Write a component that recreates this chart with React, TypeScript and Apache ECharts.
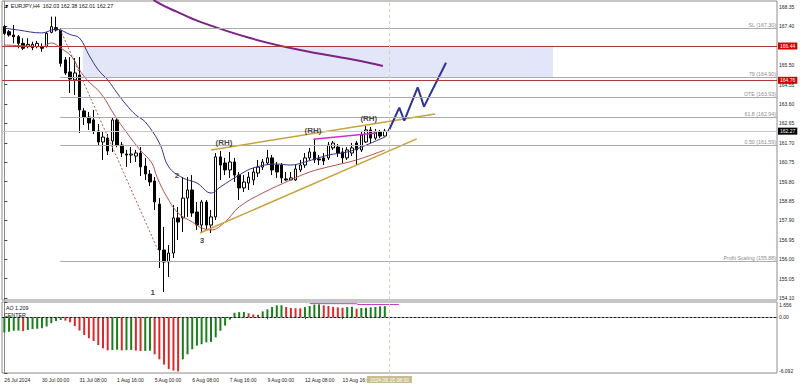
import React, { useEffect, useRef } from "react";
import * as echarts from "echarts";

const SANS = "'Liberation Sans', Arial, sans-serif";
const NARROW = "'Liberation Sans Narrow', 'Liberation Sans', Arial, sans-serif";

const symbolName = "EURJPY,H4";

// OHLC per H4 bar (index 0 = 26 Jul 16:00 ... 81 = 15 Aug 04:00)
const opens = [
  167.39, 167.14, 166.98, 166.9, 166.57, 166.41, 166.36, 166.41, 166.41, 166.41,
  167.11, 167.34, 167.22, 165.76, 165.17, 164.78, 165.02, 163.26, 162.96, 162.82,
  162.28, 161.74, 161.93, 161.79, 162.82, 161.59, 161.15, 161.1, 161.05, 161.2,
  160.56, 160.17, 159.83, 158.7, 156.45, 155.86, 156.3, 158.02, 158.02, 158.99,
  159.39, 158.31, 157.67, 158.8, 157.67, 158.07, 161.01, 160.71, 160.37, 160.76,
  160.12, 159.49, 159.73, 159.88, 160.22, 160.51, 160.71, 160.96, 160.61, 160.61,
  159.93, 159.88, 159.88, 160.37, 160.61, 160.96, 161.25, 160.91, 160.96, 160.96,
  161.45, 161.49, 161.25, 160.96, 161.2, 161.69, 161.35, 161.74, 162.33, 161.93,
  162.23, 162.03,
];
const closes = [
  167.06, 166.98, 166.9, 166.57, 166.33, 166.52, 166.52, 166.57, 166.33, 167.06,
  167.39, 167.22, 165.59, 165.12, 164.82, 165.12, 163.31, 162.96, 162.67, 162.28,
  161.74, 161.98, 161.3, 162.82, 161.59, 161.2, 161.1, 161.15, 161.2, 160.52,
  160.17, 159.78, 158.8, 156.45, 155.86, 156.3, 158.02, 157.82, 158.99, 159.39,
  158.26, 157.67, 158.8, 157.67, 158.07, 161.01, 160.61, 160.37, 160.76, 160.12,
  159.49, 159.78, 160.02, 160.27, 160.51, 160.76, 160.96, 160.37, 160.27, 159.98,
  159.88, 159.98, 160.42, 160.61, 160.96, 161.25, 160.86, 160.86, 160.81, 161.59,
  161.69, 161.2, 160.96, 161.35, 161.45, 161.35, 162.08, 162.33, 161.93, 162.23,
  162.03, 162.27,
];
const lows = [
  166.98, 166.9, 166.57, 166.33, 166.24, 166.33, 166.24, 166.33, 166.16, 166.37,
  167.06, 167.15, 165.43, 165.02, 164.14, 164.04, 162.18, 162.57, 162.33, 162.13,
  161.54, 160.86, 161.1, 161.25, 161.49, 161.0, 160.52, 160.71, 160.76, 160.07,
  159.88, 159.58, 158.41, 155.57, 154.39, 155.13, 156.06, 156.94, 157.33, 158.07,
  158.07, 157.43, 157.33, 157.43, 157.28, 157.92, 159.88, 160.12, 159.98, 159.78,
  158.9, 159.29, 159.39, 159.63, 160.02, 160.37, 160.61, 160.12, 159.98, 159.73,
  159.83, 159.88, 159.83, 160.27, 160.47, 160.86, 160.71, 160.61, 160.61, 160.86,
  161.35, 161.0, 160.71, 160.86, 161.05, 160.61, 161.25, 161.69, 161.69, 161.84,
  161.93, 162.01,
];
const highs = [
  167.47, 167.22, 167.47, 166.98, 166.82, 166.82, 166.65, 166.69, 166.57, 167.14,
  167.88, 167.88, 167.32, 165.9, 165.9, 165.85, 165.9, 163.4, 163.21, 163.31,
  162.62, 162.23, 162.13, 162.92, 162.92, 161.74, 161.35, 161.49, 161.35, 161.49,
  160.96, 160.37, 160.02, 158.99, 157.58, 156.69, 158.65, 158.56, 160.02, 160.02,
  160.12, 158.8, 158.9, 158.9, 158.41, 161.2, 161.3, 160.96, 161.25, 160.96,
  160.27, 160.12, 160.27, 160.47, 160.86, 160.91, 161.35, 161.1, 160.76, 160.71,
  160.27, 160.27, 160.61, 160.86, 161.2, 161.45, 161.89, 161.1, 161.2, 161.74,
  161.79, 161.64, 161.45, 161.49, 161.69, 161.79, 162.28, 162.52, 162.47, 162.38,
  162.33, 162.38,
];

// Awesome Oscillator values per bar
const aoValues = [
  -1.66, -1.59, -1.48, -1.46, -1.52, -1.4, -1.3, -1.26, -1.2, -1.02,
  -0.66, -0.42, -0.3, -0.38, -0.56, -0.98, -1.46, -1.94, -2.3, -2.6,
  -3.04, -3.4, -3.62, -3.58, -3.55, -3.62, -3.6, -3.57, -3.64, -3.7,
  -3.68, -3.66, -4.06, -4.6, -5.17, -5.65, -5.83, -5.92, -4.6, -4.06,
  -3.5, -3.1, -2.95, -2.75, -2.7, -2.2, -1.48, -0.92, -0.26, 0.48,
  0.55, 0.56, 0.42, 0.3, 0.26, 0.63, 0.85, 1.11, 1.29, 1.3,
  1.11, 1.0, 0.98, 0.96, 1.1, 1.22, 1.37, 1.4, 1.29, 1.22,
  1.11, 1.07, 1.03, 1.1, 1.14, 0.92, 1.0, 1.03, 1.07, 1.11,
  1.18, 1.21,
];
const aoLabel = "AO 1.209";
const aoLevelName = "CENTER";

// time axis
const timeTickIdx = [0, 8, 16, 24, 32, 40, 48, 56, 64, 72];
const timeTickLabels = [
  "26 Jul 2024", "30 Jul 00:00", "31 Jul 08:00", "1 Aug 16:00", "5 Aug 00:00",
  "6 Aug 08:00", "7 Aug 16:00", "9 Aug 00:00", "12 Aug 08:00", "13 Aug 16:00",
];
const cursorIdx = 82;
const cursorLabel = "2024.08.15 08:00";

// price axis (166.45 is hidden under the 166.44 tag in the reference)
const priceTicks = [
  154.1, 155.05, 156.0, 156.95, 157.9, 158.85, 159.8, 160.75, 161.7, 162.65,
  163.6, 164.55, 165.5, 167.4, 168.35,
];
const aoTicks = [-6.092, 0, 1.656];

// moving averages [barIndex, price]
const maPurple = [
  [30.5, 169.0], [32.5, 168.59], [36.8, 168.11], [41.7, 167.62], [52.3, 166.83],
  [63, 166.24], [73.6, 165.8], [77.8, 165.61], [80.6, 165.46],
];
const maBlue = [
  [0, 167.32], [3, 167.22], [8, 167.08], [11, 167.27], [14, 167.0], [16, 166.83],
  [18, 166.0], [20, 165.27], [22, 164.78], [24, 164.14], [26, 163.55], [28, 163.06],
  [30, 162.72], [33, 161.69], [35, 160.52], [38, 159.98], [41, 159.73], [44, 159.24],
  [46, 159.54], [50, 160.12], [53, 160.47], [58, 160.66], [61, 160.61], [64, 160.76],
  [69, 161.1], [73, 161.25], [76, 161.49], [81, 161.98],
];
const maRed = [
  [0, 166.49], [5, 166.44], [8, 166.41], [10, 166.59], [12, 166.34], [14.4, 165.9],
  [16, 165.27], [17.6, 164.78], [20.6, 164.1], [23.6, 163.0], [26.1, 162.18],
  [28.9, 161.35], [31.4, 160.71], [32.5, 160.02], [34.6, 159.05], [37, 158.26],
  [40, 157.82], [42, 157.53], [44, 157.43], [47, 157.82], [50, 158.56], [55, 159.24],
  [61, 159.88], [65, 160.27], [69, 160.52], [75, 160.86], [81, 161.35],
];

// drawn objects
const fibStartIdx = 11.9;
const fibLevels = [
  { label: "SL (167.30)", value: 167.3 },
  { label: "79 (164.90)", value: 164.9 },
  { label: "OTE (163.93)", value: 163.93 },
  { label: "61.8 (162.94)", value: 162.94 },
  { label: "0.50 (161.59)", value: 161.59 },
  { label: "Profit Scaling (155.88)", value: 155.88 },
];
const redLevels = [166.44, 164.76];
const bidPrice = 162.27;
const zoneX = [16.7, 116.8];
const zoneY = [166.44, 164.9];
const fibTrend = [[11.85, 167.27], [32.7, 156.45]];
const upperWedge = [[44.0, 161.35], [91.7, 163.11]];
const lowerWedge = [[41.65, 157.28], [87.8, 161.89]];
const magentaLine = [[65.8, 161.87], [79.2, 162.18]];
const aoMagenta = [[65, 1.48], [75, 1.47], [75.3, 1.38], [84, 1.38]];
const projection = [
  [81.74, 162.24], [84.09, 163.42], [85.15, 162.78], [88.0, 164.42], [89.35, 163.47], [94.03, 165.62],
];
const waveLabels = [
  { text: "(RH)", x: 46.76, y: 161.69 },
  { text: "(RH)", x: 65.7, y: 162.28 },
  { text: "(RH)", x: 77.6, y: 162.87 },
  { text: "2", x: 36.76, y: 160.12 },
  { text: "3", x: 42.1, y: 156.89 },
  { text: "1", x: 31.6, y: 154.35 },
];

const X_MIN = -0.5;
const X_MAX = 164.5;

function buildOption(): any {
  const last = opens.length - 1;
  const header = `▼ ${symbolName}  ${opens[last].toFixed(2)} ${highs[last].toFixed(2)} ${lows[last].toFixed(2)} ${closes[last].toFixed(2)}`;
  const candleData = opens.map((o, i) => [i, o, closes[i], lows[i], highs[i]]);
  const aoData = aoValues.map((v, i) => ({
    value: [i, v],
    itemStyle: { color: i === 0 || v >= aoValues[i - 1] ? "#1b7d1b" : "#d92a2a" },
  }));

  const fibMarks = fibLevels.map((f) => [
    {
      coord: [fibStartIdx, f.value],
      lineStyle: { color: "#ababab", width: 1, type: "solid" },
      label: {
        show: true, position: "insideEndTop", formatter: f.label, color: "#8c8c8c",
        fontSize: 5.3, fontFamily: SANS, distance: 1,
      },
    },
    { coord: [X_MAX, f.value] },
  ]);
  const redMarks = redLevels.map((v) => ({
    yAxis: v,
    lineStyle: { color: "#b23838", width: 1, type: "solid" },
    label: {
      show: true, position: "end", formatter: v.toFixed(2), color: "#ffffff",
      backgroundColor: "#d40000", padding: [1, 2, 1, 2], fontSize: 5, fontFamily: NARROW, distance: 1,
    },
  }));
  const bidMark = {
    yAxis: bidPrice,
    lineStyle: { color: "#c8c8c8", width: 1, type: "solid" },
    label: {
      show: true, position: "end", formatter: bidPrice.toFixed(2), color: "#ffffff",
      backgroundColor: "#000000", padding: [1, 2, 1, 2], fontSize: 5, fontFamily: NARROW, distance: 1,
    },
  };

  const lineBase = { type: "line", showSymbol: false, symbol: "none", silent: true };

  return {
    animation: false,
    backgroundColor: "#ffffff",
    title: [
      { text: header, left: 4, top: 3, padding: 0, textStyle: { fontSize: 5.4, fontWeight: "normal", color: "#111", fontFamily: SANS } },
      { text: aoLabel, left: 6, top: 305, padding: 0, textStyle: { fontSize: 5.3, fontWeight: "normal", color: "#111", fontFamily: SANS } },
      { text: aoLevelName, left: 4, top: 312, padding: 0, textStyle: { fontSize: 5.3, fontWeight: "normal", color: "#111", fontFamily: SANS } },
    ],
    grid: [
      { left: 2, top: 1, width: 775, height: 299, show: true, borderColor: "#8c8c8c", borderWidth: 1, backgroundColor: "#ffffff" },
      { left: 2, top: 302, width: 775, height: 71, show: true, borderColor: "#8c8c8c", borderWidth: 1, backgroundColor: "#ffffff" },
    ],
    xAxis: [
      { type: "value", gridIndex: 0, min: X_MIN, max: X_MAX, show: false, splitLine: { show: false } },
      {
        type: "value", gridIndex: 1, min: X_MIN, max: X_MAX,
        axisLine: { show: true, lineStyle: { color: "#8c8c8c" } },
        axisTick: { show: true, customValues: timeTickIdx, length: 2, lineStyle: { color: "#444" } },
        axisLabel: {
          customValues: timeTickIdx,
          formatter: (v: number) => {
            const k = timeTickIdx.indexOf(Math.round(v));
            return k >= 0 ? timeTickLabels[k] : "";
          },
          align: "left", fontSize: 5, margin: 4, color: "#222", fontFamily: NARROW,
        },
        splitLine: { show: false },
      },
    ],
    yAxis: [
      {
        type: "value", gridIndex: 0, position: "right", min: 154.0, max: 168.645,
        axisLine: { show: true, lineStyle: { color: "#8c8c8c" } },
        axisTick: { show: true, customValues: priceTicks, length: 3, lineStyle: { color: "#444" } },
        axisLabel: { customValues: priceTicks, formatter: (v: number) => v.toFixed(2), fontSize: 5, margin: 2, color: "#222", fontFamily: NARROW },
        splitLine: { show: false },
      },
      {
        type: "value", gridIndex: 1, position: "right", min: -6.092, max: 1.656,
        axisLine: { show: true, lineStyle: { color: "#8c8c8c" } },
        axisTick: { show: true, customValues: aoTicks, length: 3, lineStyle: { color: "#444" } },
        axisLabel: {
          customValues: aoTicks,
          formatter: (v: number) => (Math.abs(v) < 1e-9 ? "0.00" : v.toFixed(3)),
          fontSize: 5, margin: 2, color: "#222", fontFamily: NARROW,
          verticalAlignMinLabel: "bottom", verticalAlignMaxLabel: "top",
        },
        splitLine: { show: false },
      },
    ],
    series: [
      {
        ...lineBase, name: "MA red", xAxisIndex: 0, yAxisIndex: 0, data: maRed, smooth: 0.4,
        lineStyle: { color: "#b4524c", width: 1 },
        markArea: {
          silent: true, itemStyle: { color: "#e3e5f8" }, label: { show: false },
          data: [[{ coord: [zoneX[0], zoneY[0]] }, { coord: [zoneX[1], zoneY[1]] }]],
        },
        markLine: {
          silent: true, symbol: ["none", "none"], animation: false, label: { show: false },
          data: [...fibMarks, ...redMarks, bidMark],
        },
      },
      {
        type: "candlestick", name: symbolName, xAxisIndex: 0, yAxisIndex: 0, data: candleData,
        barWidth: 3, clip: false, silent: true,
        itemStyle: { color: "#ffffff", color0: "#000000", borderColor: "#000000", borderColor0: "#000000", borderWidth: 1 },
        markLine: {
          silent: true, symbol: ["none", "none"], animation: false, label: { show: false },
          lineStyle: { color: "#d6cea8", type: [3, 3], width: 1 },
          data: [{ xAxis: cursorIdx }],
        },
      },
      { ...lineBase, name: "MA blue", xAxisIndex: 0, yAxisIndex: 0, data: maBlue, smooth: 0.4, lineStyle: { color: "#34348a", width: 1 } },
      { ...lineBase, name: "MA purple", xAxisIndex: 0, yAxisIndex: 0, data: maPurple, smooth: 0.4, lineStyle: { color: "#7d2388", width: 2 } },
      { ...lineBase, name: "Fib trend", xAxisIndex: 0, yAxisIndex: 0, data: fibTrend, lineStyle: { color: "#a85a4a", width: 1, type: [2, 2] } },
      { ...lineBase, name: "Upper wedge", xAxisIndex: 0, yAxisIndex: 0, data: upperWedge, lineStyle: { color: "#c9a23e", width: 1.5 } },
      { ...lineBase, name: "Lower wedge", xAxisIndex: 0, yAxisIndex: 0, data: lowerWedge, lineStyle: { color: "#c9a23e", width: 1.5 } },
      { ...lineBase, name: "RH line", xAxisIndex: 0, yAxisIndex: 0, data: magentaLine, lineStyle: { color: "#d12bd1", width: 1.5 } },
      { ...lineBase, name: "Projection", xAxisIndex: 0, yAxisIndex: 0, data: projection, lineStyle: { color: "#2e3396", width: 2 } },
      {
        type: "scatter", name: "Labels", xAxisIndex: 0, yAxisIndex: 0, silent: true, symbolSize: 1,
        itemStyle: { color: "rgba(0,0,0,0)" },
        data: waveLabels.map((w) => ({ value: [w.x, w.y], name: w.text })),
        label: { show: true, position: "inside", formatter: (p: any) => p.name, color: "#111", fontWeight: "bold", fontSize: 8, fontFamily: SANS },
        z: 5,
      },
      {
        type: "bar", name: "AO", xAxisIndex: 1, yAxisIndex: 1, data: aoData, barWidth: 2, silent: true,
        markLine: {
          silent: true, symbol: ["none", "none"], animation: false, label: { show: false },
          data: [
            { yAxis: 0, lineStyle: { color: "#222", type: [2, 2], width: 1 } },
            {
              xAxis: cursorIdx, lineStyle: { color: "#d6cea8", type: [3, 3], width: 1 },
              label: {
                show: true, position: "start", formatter: cursorLabel, color: "#ffffff",
                backgroundColor: "#c8bd8c", padding: [1, 3, 1, 3], fontSize: 5, fontFamily: NARROW, distance: 3,
              },
            },
          ],
        },
      },
      { ...lineBase, name: "AO line", xAxisIndex: 1, yAxisIndex: 1, data: aoMagenta, lineStyle: { color: "#c23cc2", width: 1 } },
    ],
  };
}

export default function App() {
  const ref = useRef<HTMLDivElement>(null);
  useEffect(() => {
    if (!ref.current) return;
    const chart = echarts.init(ref.current, undefined, { renderer: "svg" });
    chart.setOption(buildOption());
    return () => chart.dispose();
  }, []);
  return (
    <div
      ref={ref}
      style={{ position: "fixed", left: 0, top: 0, width: 800, height: 385, background: "#ffffff" }}
    />
  );
}
